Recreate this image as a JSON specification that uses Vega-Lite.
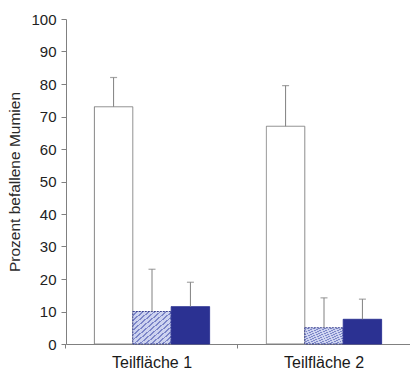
{
  "$schema": "https://vega.github.io/schema/vega-lite/v6.json",
  "width": 344,
  "height": 325,
  "autosize": {"type": "none"},
  "padding": {"left": 66, "top": 19, "right": 0, "bottom": 25},
  "background": "white",
  "config": {
    "view": {"stroke": null},
    "axis": {"labelFont": "Liberation Sans", "titleFont": "Liberation Sans", "domainColor": "#808080", "tickColor": "#808080", "grid": false},
    "axisY": {"titleFontSize": 15.5, "titleFontWeight": "normal", "titleColor": "#2a2a2a", "titlePadding": 8, "labelFontSize": 15, "labelColor": "#222", "tickSize": 5, "labelPadding": 5, "domainWidth": 1}
  },
  "data": {
    "values": [
      {"flaeche": "Teilfläche 1", "gruppe": "A", "wert": 73, "fehler": 82},
      {"flaeche": "Teilfläche 1", "gruppe": "B", "wert": 10, "fehler": 23},
      {"flaeche": "Teilfläche 1", "gruppe": "C", "wert": 11.5, "fehler": 19},
      {"flaeche": "Teilfläche 2", "gruppe": "A", "wert": 67, "fehler": 79.5},
      {"flaeche": "Teilfläche 2", "gruppe": "B", "wert": 5, "fehler": 14.2},
      {"flaeche": "Teilfläche 2", "gruppe": "C", "wert": 7.6, "fehler": 13.8}
    ]
  },
  "encoding": {
    "x": {
      "field": "flaeche", "type": "nominal",
      "scale": {"paddingInner": 0.33, "paddingOuter": 0.165},
      "axis": {"title": null, "labelAngle": 0, "labelFontSize": 16, "labelColor": "#1a1a1a", "labelPadding": 6, "ticks": true, "tickSize": 4, "bandPosition": -0.248, "domainWidth": 1}
    },
    "xOffset": {"field": "gruppe", "type": "nominal", "sort": ["A", "B", "C"], "scale": {"paddingInner": 0, "paddingOuter": 0}}
  },
  "layer": [
    {
      "mark": {"type": "bar", "strokeWidth": 1},
      "encoding": {
        "y": {
          "field": "wert", "type": "quantitative",
          "scale": {"domain": [0, 100], "nice": false},
          "axis": {"values": [0,10,20,30,40,50,60,70,80,90,100], "tickCount": 11, "title": "Prozent befallene Mumien"}
        },
        "fill": {
          "condition": [
            {"test": "datum.gruppe === 'A'", "value": "#ffffff"},
            {"test": "datum.gruppe === 'C'", "value": "#2b3192"}
          ],
          "value": {
            "gradient": "linear", "x1": 0, "y1": 0, "x2": 1, "y2": 1,
            "stops": [
              {"offset": 0.0, "color": "#cdd3f0"}, {"offset": 0.05, "color": "#cdd3f0"}, {"offset": 0.05, "color": "#7c86c8"}, {"offset": 0.075, "color": "#7c86c8"},
              {"offset": 0.075, "color": "#cdd3f0"}, {"offset": 0.125, "color": "#cdd3f0"}, {"offset": 0.125, "color": "#7c86c8"}, {"offset": 0.15, "color": "#7c86c8"},
              {"offset": 0.15, "color": "#cdd3f0"}, {"offset": 0.2, "color": "#cdd3f0"}, {"offset": 0.2, "color": "#7c86c8"}, {"offset": 0.225, "color": "#7c86c8"},
              {"offset": 0.225, "color": "#cdd3f0"}, {"offset": 0.275, "color": "#cdd3f0"}, {"offset": 0.275, "color": "#7c86c8"}, {"offset": 0.3, "color": "#7c86c8"},
              {"offset": 0.3, "color": "#cdd3f0"}, {"offset": 0.35, "color": "#cdd3f0"}, {"offset": 0.35, "color": "#7c86c8"}, {"offset": 0.375, "color": "#7c86c8"},
              {"offset": 0.375, "color": "#cdd3f0"}, {"offset": 0.425, "color": "#cdd3f0"}, {"offset": 0.425, "color": "#7c86c8"}, {"offset": 0.45, "color": "#7c86c8"},
              {"offset": 0.45, "color": "#cdd3f0"}, {"offset": 0.5, "color": "#cdd3f0"}, {"offset": 0.5, "color": "#7c86c8"}, {"offset": 0.525, "color": "#7c86c8"},
              {"offset": 0.525, "color": "#cdd3f0"}, {"offset": 0.575, "color": "#cdd3f0"}, {"offset": 0.575, "color": "#7c86c8"}, {"offset": 0.6, "color": "#7c86c8"},
              {"offset": 0.6, "color": "#cdd3f0"}, {"offset": 0.65, "color": "#cdd3f0"}, {"offset": 0.65, "color": "#7c86c8"}, {"offset": 0.675, "color": "#7c86c8"},
              {"offset": 0.675, "color": "#cdd3f0"}, {"offset": 0.725, "color": "#cdd3f0"}, {"offset": 0.725, "color": "#7c86c8"}, {"offset": 0.75, "color": "#7c86c8"},
              {"offset": 0.75, "color": "#cdd3f0"}, {"offset": 0.8, "color": "#cdd3f0"}, {"offset": 0.8, "color": "#7c86c8"}, {"offset": 0.825, "color": "#7c86c8"},
              {"offset": 0.825, "color": "#cdd3f0"}, {"offset": 0.875, "color": "#cdd3f0"}, {"offset": 0.875, "color": "#7c86c8"}, {"offset": 0.9, "color": "#7c86c8"},
              {"offset": 0.9, "color": "#cdd3f0"}, {"offset": 0.95, "color": "#cdd3f0"}, {"offset": 0.95, "color": "#7c86c8"}, {"offset": 0.975, "color": "#7c86c8"},
              {"offset": 0.975, "color": "#cdd3f0"}, {"offset": 1.0, "color": "#cdd3f0"}
            ]
          }
        },
        "stroke": {
          "condition": [
            {"test": "datum.gruppe === 'A'", "value": "#808080"},
            {"test": "datum.gruppe === 'C'", "value": "#2b3192"}
          ],
          "value": "#3a4290"
        },
        "strokeDash": {
          "condition": {"test": "datum.gruppe === 'B'", "value": [2, 1]},
          "value": [1, 0]
        }
      }
    },
    {
      "mark": {"type": "rule", "color": "#808080", "strokeWidth": 1},
      "encoding": {
        "y": {"field": "wert", "type": "quantitative"},
        "y2": {"field": "fehler"}
      }
    },
    {
      "mark": {"type": "tick", "color": "#808080", "size": 7, "thickness": 1.2},
      "encoding": {
        "y": {"field": "fehler", "type": "quantitative"}
      }
    }
  ]
}
